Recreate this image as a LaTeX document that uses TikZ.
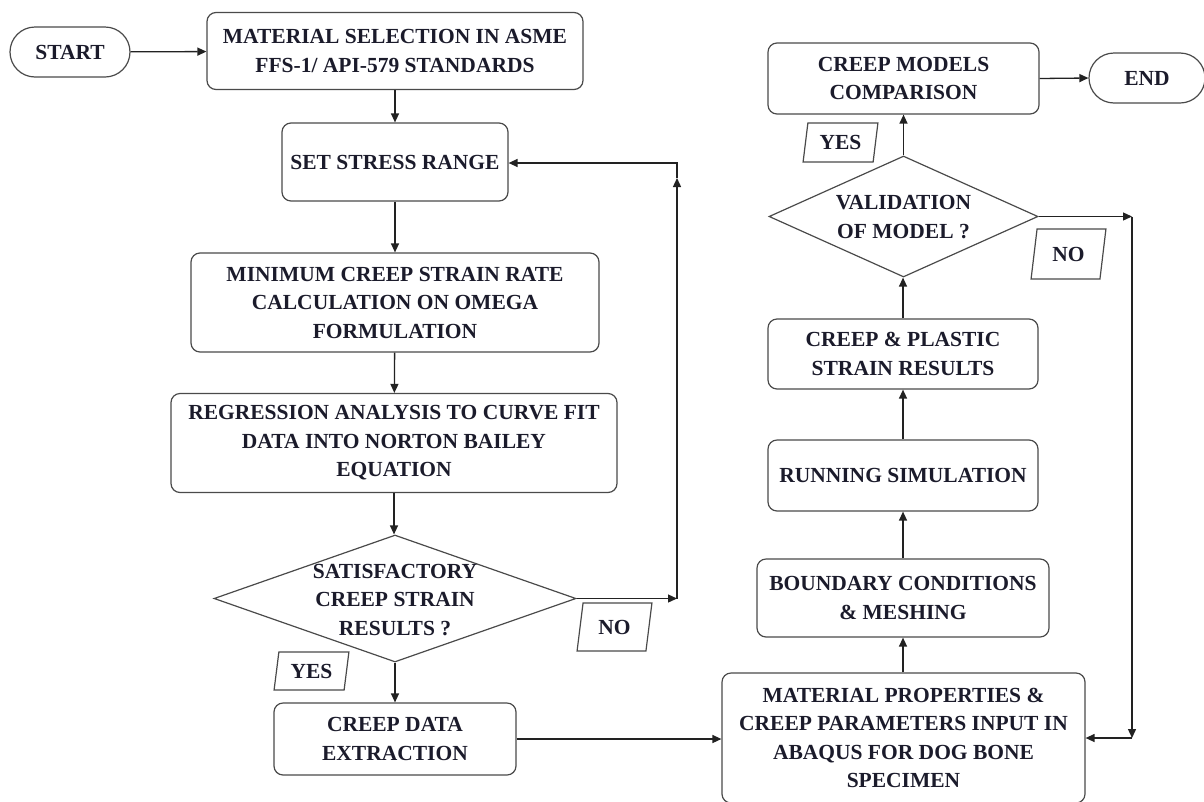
\documentclass[tikz,border=0pt]{standalone}
\usepackage{fontspec}
\setmainfont{Liberation Serif}
\usetikzlibrary{shapes.geometric,arrows.meta}
\definecolor{txt}{HTML}{1B1B2B}
\definecolor{edge}{HTML}{4A4A4A}
\definecolor{lin}{HTML}{222222}
\begin{document}
\begin{tikzpicture}[x=1pt,y=-1pt,
  every node/.style={font=\fontsize{21.5}{28.5}\selectfont\bfseries, text=txt, align=center},
  proc/.style={draw=edge, line width=1.2pt, rounded corners=9pt, inner sep=0pt},
  term/.style={draw=edge, line width=1.2pt, rounded corners=25pt, inner sep=0pt},
  dec/.style={draw=edge, line width=1.2pt, diamond, inner sep=0pt},
  tag/.style={draw=edge, line width=1.2pt, trapezium, trapezium left angle=78,
    trapezium right angle=102, trapezium stretches=true, inner sep=0pt},
  conn/.style={draw=lin, line width=1.3pt, -{Triangle[length=9pt,width=8pt]}},
  plain/.style={draw=lin, line width=1.3pt}]
\useasboundingbox (0,0) rectangle (1204,801);

% left column
\node[term, minimum width=120pt, minimum height=50pt] (start) at (70,52) {START};
\node[proc, minimum width=376pt, minimum height=77pt] (mat) at (395,51)
  {MATERIAL SELECTION IN ASME\\FFS-1/ API-579 STANDARDS};
\node[proc, minimum width=226pt, minimum height=78pt] (stress) at (395,162) {SET STRESS RANGE};
\node[proc, minimum width=408pt, minimum height=99pt] (mcsr) at (395,302.5)
  {MINIMUM CREEP STRAIN RATE\\CALCULATION ON OMEGA\\FORMULATION};
\node[proc, minimum width=446pt, minimum height=99pt] (reg) at (394,443)
  {REGRESSION ANALYSIS TO CURVE FIT\\DATA INTO NORTON BAILEY\\EQUATION};
\node[dec, minimum width=362pt, minimum height=127pt] (sat) at (395,598.5) {};
\node (sattext) at (395,600) {SATISFACTORY\\CREEP STRAIN\\RESULTS ?};
\node[tag, minimum width=75pt, minimum height=38pt] (yes1) at (311.5,671) {YES};
\node[tag, minimum width=75pt, minimum height=48pt] (no1) at (614.5,627) {NO};
\node[proc, minimum width=242pt, minimum height=72pt] (ext) at (395,739)
  {CREEP DATA\\EXTRACTION};

% right column
\node[proc, minimum width=363pt, minimum height=130pt] (abq) at (903.5,738)
  {MATERIAL PROPERTIES \&\\CREEP PARAMETERS INPUT IN\\ABAQUS FOR DOG BONE\\SPECIMEN};
\node[proc, minimum width=292pt, minimum height=78pt] (bc) at (903,598)
  {BOUNDARY CONDITIONS\\\& MESHING};
\node[proc, minimum width=270pt, minimum height=71pt] (run) at (903,475.5) {RUNNING SIMULATION};
\node[proc, minimum width=270pt, minimum height=70pt] (cps) at (903,354)
  {CREEP \& PLASTIC\\STRAIN RESULTS};
\node[dec, minimum width=269pt, minimum height=121pt] (val) at (903.5,216.5) {};
\node (valtext) at (903.5,217) {VALIDATION\\OF MODEL ?};
\node[tag, minimum width=75pt, minimum height=39pt] (yes2) at (840.5,142.5) {YES};
\node[tag, minimum width=75pt, minimum height=50pt] (no2) at (1068.5,254) {NO};
\node[proc, minimum width=271pt, minimum height=71pt] (cmp) at (903.5,78.5)
  {CREEP MODELS\\COMPARISON};
\node[term, minimum width=116pt, minimum height=50pt] (end) at (1147,78) {END};

% helper coordinates
\coordinate (l1) at (677,598.5);
\coordinate (l2) at (677,178);
\coordinate (l3) at (677,163);
\coordinate (r1) at (1132,216.5);
\coordinate (r2) at (1132,738);

% connectors
\draw[conn] (start) -- (mat);
\draw[conn] (mat.south) -- (stress.north);
\draw[conn] (stress) -- (mcsr);
\draw[conn] (mcsr) -- (reg);
\draw[conn] (reg.south) -- (reg.south |- sat.north);
\draw[conn] (sat.south) -- (sat.south |- ext.north);
\draw[conn] (sat.east) -- (l1);
\draw[conn] (l1) -- (l2);
\draw[conn] (l2) -- (l3) -- (stress.east |- l3);
\draw[conn] (ext.east) -- (ext.east -| abq.west);
\draw[conn] (abq.north -| bc.south) -- (bc.south);
\draw[conn] (bc) -- (run);
\draw[conn] (run) -- (cps);
\draw[conn] (cps.north) -- (cps.north |- val.south);
\draw[conn] (val.north) -- (val.north |- cmp.south);
\draw[conn] (cmp.east) -- (end.west);
\draw[conn] (val.east) -- (r1);
\draw[conn] (r1) -- (r2);
\draw[conn] (r2) -- (r2 -| abq.east);
\end{tikzpicture}
\end{document}
